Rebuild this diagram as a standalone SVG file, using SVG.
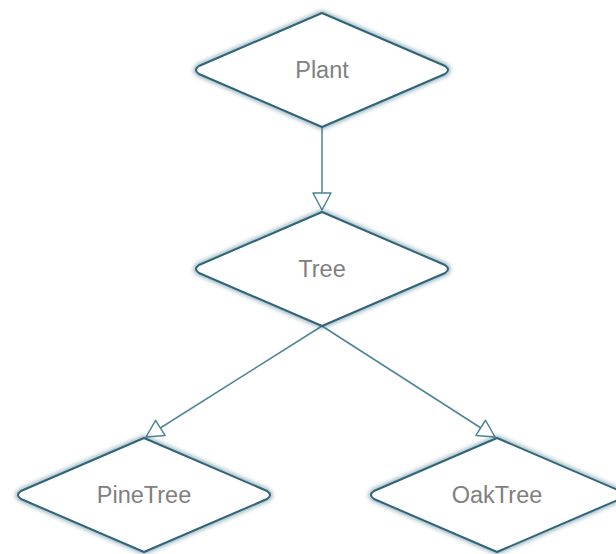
<svg xmlns="http://www.w3.org/2000/svg" width="616" height="554" viewBox="0 0 616 554">
<style>
.shape{fill:#ffffff;stroke:#2f6579;stroke-width:2;stroke-linejoin:round}
.glow{fill:none;stroke:#2f6579;stroke-width:5;stroke-linejoin:round;opacity:0.5;filter:url(#blur)}
.label{font-family:"Liberation Sans",Arial,sans-serif;font-size:23.5px;fill:#808080;text-anchor:middle;dominant-baseline:central}
.edge{fill:none;stroke:#4e8396;stroke-width:1.5}
</style>
<defs>
<filter id="blur" x="-10%" y="-10%" width="120%" height="120%"><feGaussianBlur stdDeviation="2"/></filter>
<marker id="arrow" viewBox="0 0 22 22" refX="19" refY="11" markerWidth="22" markerHeight="22" markerUnits="userSpaceOnUse" orient="auto">
<path d="M2,2 L19,11 L2,20 Z" fill="#ffffff" stroke="#4e8396" stroke-width="1.5" stroke-linejoin="round"/>
</marker>
<path id="dia" d="M0,-57 L123,-4 Q129,0 123,4 L0,57 L-123,4 Q-129,0 -123,-4 Z"/>
</defs>
<g id="connectors">
<path class="edge" d="M322,127 L322,210" marker-end="url(#arrow)"/>
<path class="edge" d="M322,326 L146,437" marker-end="url(#arrow)"/>
<path class="edge" d="M322,326 L495,437" marker-end="url(#arrow)"/>
</g>
<g id="Plant" transform="translate(322,70)">
<use href="#dia" class="glow"/><use href="#dia" class="shape"/>
<text class="label" x="0" y="0">Plant</text>
</g>
<g id="Tree" transform="translate(322,269)">
<use href="#dia" class="glow"/><use href="#dia" class="shape"/>
<text class="label" x="0" y="0">Tree</text>
</g>
<g id="PineTree" transform="translate(144,495)">
<use href="#dia" class="glow"/><use href="#dia" class="shape"/>
<text class="label" x="0" y="0">PineTree</text>
</g>
<g id="OakTree" transform="translate(497,495)">
<use href="#dia" class="glow"/><use href="#dia" class="shape"/>
<text class="label" x="0" y="0">OakTree</text>
</g>
</svg>
